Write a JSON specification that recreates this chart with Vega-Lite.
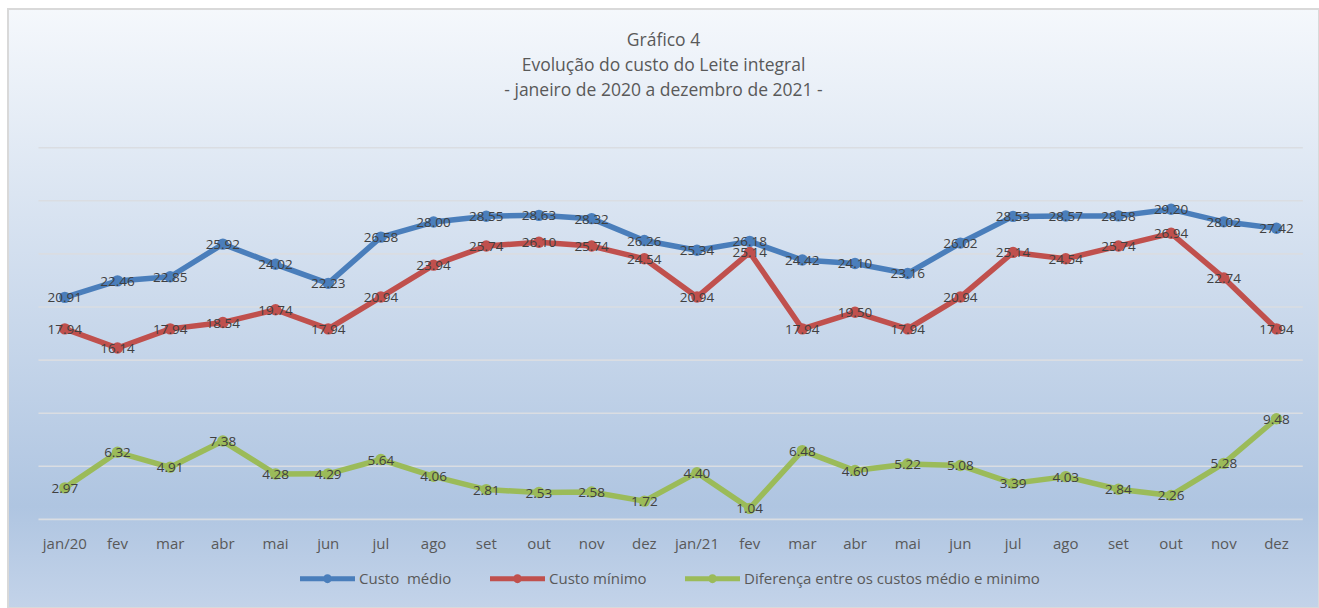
{
  "$schema": "https://vega.github.io/schema/vega-lite/v6.json",
  "width": 1311,
  "height": 599,
  "autosize": {"type": "none"},
  "padding": {"left": 8, "top": 9, "right": 0, "bottom": 0},
  "background": "#ffffff",
  "config": {
    "view": {
      "fill": {"gradient": "linear", "x1": 0, "y1": 0, "x2": 0, "y2": 1,
        "stops": [
          {"offset": 0, "color": "#f5f8fc"},
          {"offset": 0.83, "color": "#afc5e1"},
          {"offset": 1, "color": "#c3d3e9"}
        ]},
      "stroke": "#d9d9d9",
      "strokeWidth": 2
    },
    "font": "Open Sans"
  },
  "title": {
    "text": ["Gráfico 4", "Evolução do custo do Leite integral", "- janeiro de 2020 a dezembro de 2021 -"],
    "anchor": "middle",
    "frame": "group",
    "font": "Open Sans",
    "fontSize": 17.5,
    "fontWeight": "normal",
    "color": "#595959",
    "lineHeight": 25,
    "baseline": "top",
    "offset": -90
  },
  "data": {
    "values": [
      {"mes": "jan/20", "serie": "Custo  médio", "valor": 20.91},
      {"mes": "fev/20", "serie": "Custo  médio", "valor": 22.46},
      {"mes": "mar/20", "serie": "Custo  médio", "valor": 22.85},
      {"mes": "abr/20", "serie": "Custo  médio", "valor": 25.92},
      {"mes": "mai/20", "serie": "Custo  médio", "valor": 24.02},
      {"mes": "jun/20", "serie": "Custo  médio", "valor": 22.23},
      {"mes": "jul/20", "serie": "Custo  médio", "valor": 26.58},
      {"mes": "ago/20", "serie": "Custo  médio", "valor": 28.00},
      {"mes": "set/20", "serie": "Custo  médio", "valor": 28.55},
      {"mes": "out/20", "serie": "Custo  médio", "valor": 28.63},
      {"mes": "nov/20", "serie": "Custo  médio", "valor": 28.32},
      {"mes": "dez/20", "serie": "Custo  médio", "valor": 26.26},
      {"mes": "jan/21", "serie": "Custo  médio", "valor": 25.34},
      {"mes": "fev/21", "serie": "Custo  médio", "valor": 26.18},
      {"mes": "mar/21", "serie": "Custo  médio", "valor": 24.42},
      {"mes": "abr/21", "serie": "Custo  médio", "valor": 24.10},
      {"mes": "mai/21", "serie": "Custo  médio", "valor": 23.16},
      {"mes": "jun/21", "serie": "Custo  médio", "valor": 26.02},
      {"mes": "jul/21", "serie": "Custo  médio", "valor": 28.53},
      {"mes": "ago/21", "serie": "Custo  médio", "valor": 28.57},
      {"mes": "set/21", "serie": "Custo  médio", "valor": 28.58},
      {"mes": "out/21", "serie": "Custo  médio", "valor": 29.20},
      {"mes": "nov/21", "serie": "Custo  médio", "valor": 28.02},
      {"mes": "dez/21", "serie": "Custo  médio", "valor": 27.42},
      {"mes": "jan/20", "serie": "Custo mínimo", "valor": 17.94},
      {"mes": "fev/20", "serie": "Custo mínimo", "valor": 16.14},
      {"mes": "mar/20", "serie": "Custo mínimo", "valor": 17.94},
      {"mes": "abr/20", "serie": "Custo mínimo", "valor": 18.54},
      {"mes": "mai/20", "serie": "Custo mínimo", "valor": 19.74},
      {"mes": "jun/20", "serie": "Custo mínimo", "valor": 17.94},
      {"mes": "jul/20", "serie": "Custo mínimo", "valor": 20.94},
      {"mes": "ago/20", "serie": "Custo mínimo", "valor": 23.94},
      {"mes": "set/20", "serie": "Custo mínimo", "valor": 25.74},
      {"mes": "out/20", "serie": "Custo mínimo", "valor": 26.10},
      {"mes": "nov/20", "serie": "Custo mínimo", "valor": 25.74},
      {"mes": "dez/20", "serie": "Custo mínimo", "valor": 24.54},
      {"mes": "jan/21", "serie": "Custo mínimo", "valor": 20.94},
      {"mes": "fev/21", "serie": "Custo mínimo", "valor": 25.14},
      {"mes": "mar/21", "serie": "Custo mínimo", "valor": 17.94},
      {"mes": "abr/21", "serie": "Custo mínimo", "valor": 19.50},
      {"mes": "mai/21", "serie": "Custo mínimo", "valor": 17.94},
      {"mes": "jun/21", "serie": "Custo mínimo", "valor": 20.94},
      {"mes": "jul/21", "serie": "Custo mínimo", "valor": 25.14},
      {"mes": "ago/21", "serie": "Custo mínimo", "valor": 24.54},
      {"mes": "set/21", "serie": "Custo mínimo", "valor": 25.74},
      {"mes": "out/21", "serie": "Custo mínimo", "valor": 26.94},
      {"mes": "nov/21", "serie": "Custo mínimo", "valor": 22.74},
      {"mes": "dez/21", "serie": "Custo mínimo", "valor": 17.94},
      {"mes": "jan/20", "serie": "Diferença entre os custos médio e minimo", "valor": 2.97},
      {"mes": "fev/20", "serie": "Diferença entre os custos médio e minimo", "valor": 6.32},
      {"mes": "mar/20", "serie": "Diferença entre os custos médio e minimo", "valor": 4.91},
      {"mes": "abr/20", "serie": "Diferença entre os custos médio e minimo", "valor": 7.38},
      {"mes": "mai/20", "serie": "Diferença entre os custos médio e minimo", "valor": 4.28},
      {"mes": "jun/20", "serie": "Diferença entre os custos médio e minimo", "valor": 4.29},
      {"mes": "jul/20", "serie": "Diferença entre os custos médio e minimo", "valor": 5.64},
      {"mes": "ago/20", "serie": "Diferença entre os custos médio e minimo", "valor": 4.06},
      {"mes": "set/20", "serie": "Diferença entre os custos médio e minimo", "valor": 2.81},
      {"mes": "out/20", "serie": "Diferença entre os custos médio e minimo", "valor": 2.53},
      {"mes": "nov/20", "serie": "Diferença entre os custos médio e minimo", "valor": 2.58},
      {"mes": "dez/20", "serie": "Diferença entre os custos médio e minimo", "valor": 1.72},
      {"mes": "jan/21", "serie": "Diferença entre os custos médio e minimo", "valor": 4.40},
      {"mes": "fev/21", "serie": "Diferença entre os custos médio e minimo", "valor": 1.04},
      {"mes": "mar/21", "serie": "Diferença entre os custos médio e minimo", "valor": 6.48},
      {"mes": "abr/21", "serie": "Diferença entre os custos médio e minimo", "valor": 4.60},
      {"mes": "mai/21", "serie": "Diferença entre os custos médio e minimo", "valor": 5.22},
      {"mes": "jun/21", "serie": "Diferença entre os custos médio e minimo", "valor": 5.08},
      {"mes": "jul/21", "serie": "Diferença entre os custos médio e minimo", "valor": 3.39},
      {"mes": "ago/21", "serie": "Diferença entre os custos médio e minimo", "valor": 4.03},
      {"mes": "set/21", "serie": "Diferença entre os custos médio e minimo", "valor": 2.84},
      {"mes": "out/21", "serie": "Diferença entre os custos médio e minimo", "valor": 2.26},
      {"mes": "nov/21", "serie": "Diferença entre os custos médio e minimo", "valor": 5.28},
      {"mes": "dez/21", "serie": "Diferença entre os custos médio e minimo", "valor": 9.48}
    ]
  },
  "layer": [
    {
      "data": {"values": [{"g": 0}, {"g": 5}, {"g": 10}, {"g": 15}, {"g": 20}, {"g": 25}, {"g": 30}, {"g": 35}]},
      "mark": {"type": "rule", "color": "#dadde2", "strokeWidth": 1.6},
      "encoding": {
        "x": {"datum": "jan/20", "type": "ordinal", "bandPosition": 0,
          "scale": {"type": "band", "domain": ["jan/20","fev/20","mar/20","abr/20","mai/20","jun/20","jul/20","ago/20","set/20","out/20","nov/20","dez/20","jan/21","fev/21","mar/21","abr/21","mai/21","jun/21","jul/21","ago/21","set/21","out/21","nov/21","dez/21"], "paddingInner": 0, "paddingOuter": 0.443, "align": 0.653},
          "axis": {"orient": "bottom", "offset": -88.6, "domain": false, "ticks": false, "tickSize": 0, "grid": false, "title": null,
            "labelExpr": "indexof(datum.value, 'jan') === 0 ? datum.value : split(datum.value, '/')[0]",
            "labelAngle": 0, "labelFont": "Open Sans", "labelFontSize": 15, "labelColor": "#595959", "labelPadding": 24, "labelBaseline": "middle"}},
        "x2": {"datum": "dez/21", "bandPosition": 1},
        "y": {"field": "g", "type": "quantitative", "scale": {"domain": [-8.34, 48.06], "nice": false, "zero": false}, "axis": null}
      }
    },
    {
      "mark": {"type": "line", "strokeWidth": 5.5, "strokeCap": "round", "strokeJoin": "round"},
      "encoding": {
        "x": {"field": "mes", "type": "ordinal", "bandPosition": 0.5},
        "y": {"field": "valor", "type": "quantitative"},
        "color": {"field": "serie", "type": "nominal",
          "scale": {"domain": ["Custo  médio", "Custo mínimo", "Diferença entre os custos médio e minimo"], "range": ["#4a7ebb", "#c0504d", "#9bbb59"]},
          "legend": {"orient": "none", "legendX": 292, "legendY": 542, "direction": "horizontal", "title": null,
            "symbolType": "M-1,-0.09H1V0.09H-1Z M0.16,0A0.16,0.16,0,1,1,-0.16,0A0.16,0.16,0,1,1,0.16,0Z",
            "symbolSize": 3025, "symbolStrokeWidth": 0,
            "labelExpr": "replace(datum.label, '  ', '\u00a0 ')",
            "labelFont": "Open Sans", "labelFontSize": 15, "labelColor": "#595959", "labelOffset": 4, "labelLimit": 500, "columnPadding": 38, "padding": 0,
            "encode": {"symbols": {"update": {"fill": {"scale": "color", "field": "value"}, "strokeWidth": {"value": 0}}}}}}
      }
    },
    {
      "mark": {"type": "circle", "size": 130, "opacity": 1},
      "encoding": {
        "x": {"field": "mes", "type": "ordinal", "bandPosition": 0.5},
        "y": {"field": "valor", "type": "quantitative"},
        "color": {"field": "serie", "type": "nominal"}
      }
    },
    {
      "mark": {"type": "text", "font": "Open Sans", "fontSize": 13.5, "color": "#404040", "baseline": "middle", "dy": 1},
      "encoding": {
        "x": {"field": "mes", "type": "ordinal", "bandPosition": 0.5},
        "y": {"field": "valor", "type": "quantitative"},
        "text": {"field": "valor", "type": "quantitative", "format": ".2f"}
      }
    }
  ]
}
